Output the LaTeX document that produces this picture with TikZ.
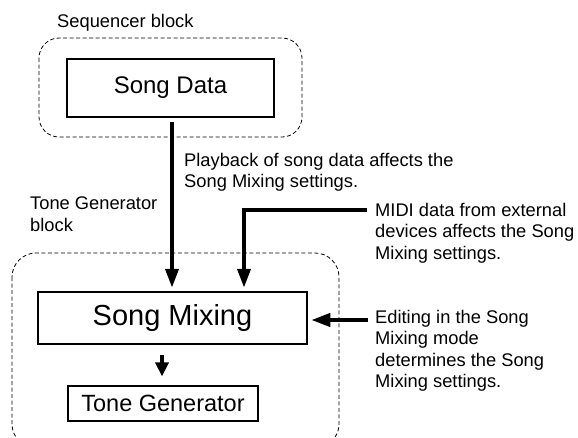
\documentclass[tikz,border=0pt]{standalone}
\usepackage{fontspec}
\setmainfont{Liberation Sans}
\usetikzlibrary{arrows.meta,positioning}

\begin{document}
\begin{tikzpicture}[x=1pt, y=-1pt,
    blockarea/.style={draw, dash pattern=on 4pt off 2.5pt, line width=0.8pt, rounded corners=20pt},
    unit/.style={draw, line width=1.2pt, inner sep=0pt, align=center},
    note/.style={inner sep=0pt, anchor=north west, align=left, font=\fontsize{18.3}{21.5}\selectfont},
    flow/.style={line width=4pt, -{Triangle[length=19pt,width=13pt]}},
    shortflow/.style={line width=4pt, -{Triangle[length=14pt,width=13pt]}}]

    \useasboundingbox (0,0) rectangle (578,437);

    % === BLOCK AREAS ===
    % Sequencer block
    \draw[blockarea] (39,38) rectangle (302,137);
    \node[note] (seqlabel) at (57,14) {Sequencer block};

    % Tone generator block
    \draw[blockarea, rounded corners=24pt] (12,253) rectangle (339,448);
    \node[note] (tglabel) at (30,197) {Tone Generator\\block};

    % === UNITS ===
    \node[unit, minimum width=207pt, minimum height=58pt,
        font=\fontsize{24}{28}\selectfont] (songdata) at (170.5,88) {Song Data};
    \node[unit, line width=2.5pt, minimum width=269pt, minimum height=52pt,
        font=\fontsize{29}{34}\selectfont] (mixing) at (172.5,318) {Song Mixing};
    \node[unit, minimum width=190pt, minimum height=35pt,
        font=\fontsize{23.5}{28}\selectfont] (tonegen) at (163,403.5) {Tone Generator};

    % === NOTES ===
    \node[note] (playnote) at (184,153) {Playback of song data affects the\\Song Mixing settings.};
    \node[note] (midinote) at (375,203) {MIDI data from external\\devices affects the Song\\Mixing settings.};
    \node[note] (editnote) at (375,310) {Editing in the Song\\Mixing mode\\determines the Song\\Mixing settings.};

    \coordinate (playin) at (172,0);
    \coordinate (midiin) at ([xshift=-8pt,yshift=-7pt]midinote.north west);
    \coordinate (editin) at ([xshift=-7pt,yshift=-10pt]editnote.north west);

    % === CONNECTORS ===
    % Song data into song mixing
    \draw[flow, shorten <=4pt, shorten >=3pt] (songdata.south -| playin) -- (mixing.north -| playin);

    % External MIDI
    \draw[flow, shorten >=3pt] (midiin) -| ([xshift=71.5pt]mixing.north);

    % Editing in the mode
    \draw[flow, shorten >=3pt] (editin) -- (mixing.east |- editin);

    % Song mixing to tone generator
    \draw[shortflow, shorten <=10pt, shorten >=9pt] ([xshift=-10.5pt]mixing.south) -- ([xshift=-10.5pt]mixing.south |- tonegen.north);

\end{tikzpicture}
\end{document}
